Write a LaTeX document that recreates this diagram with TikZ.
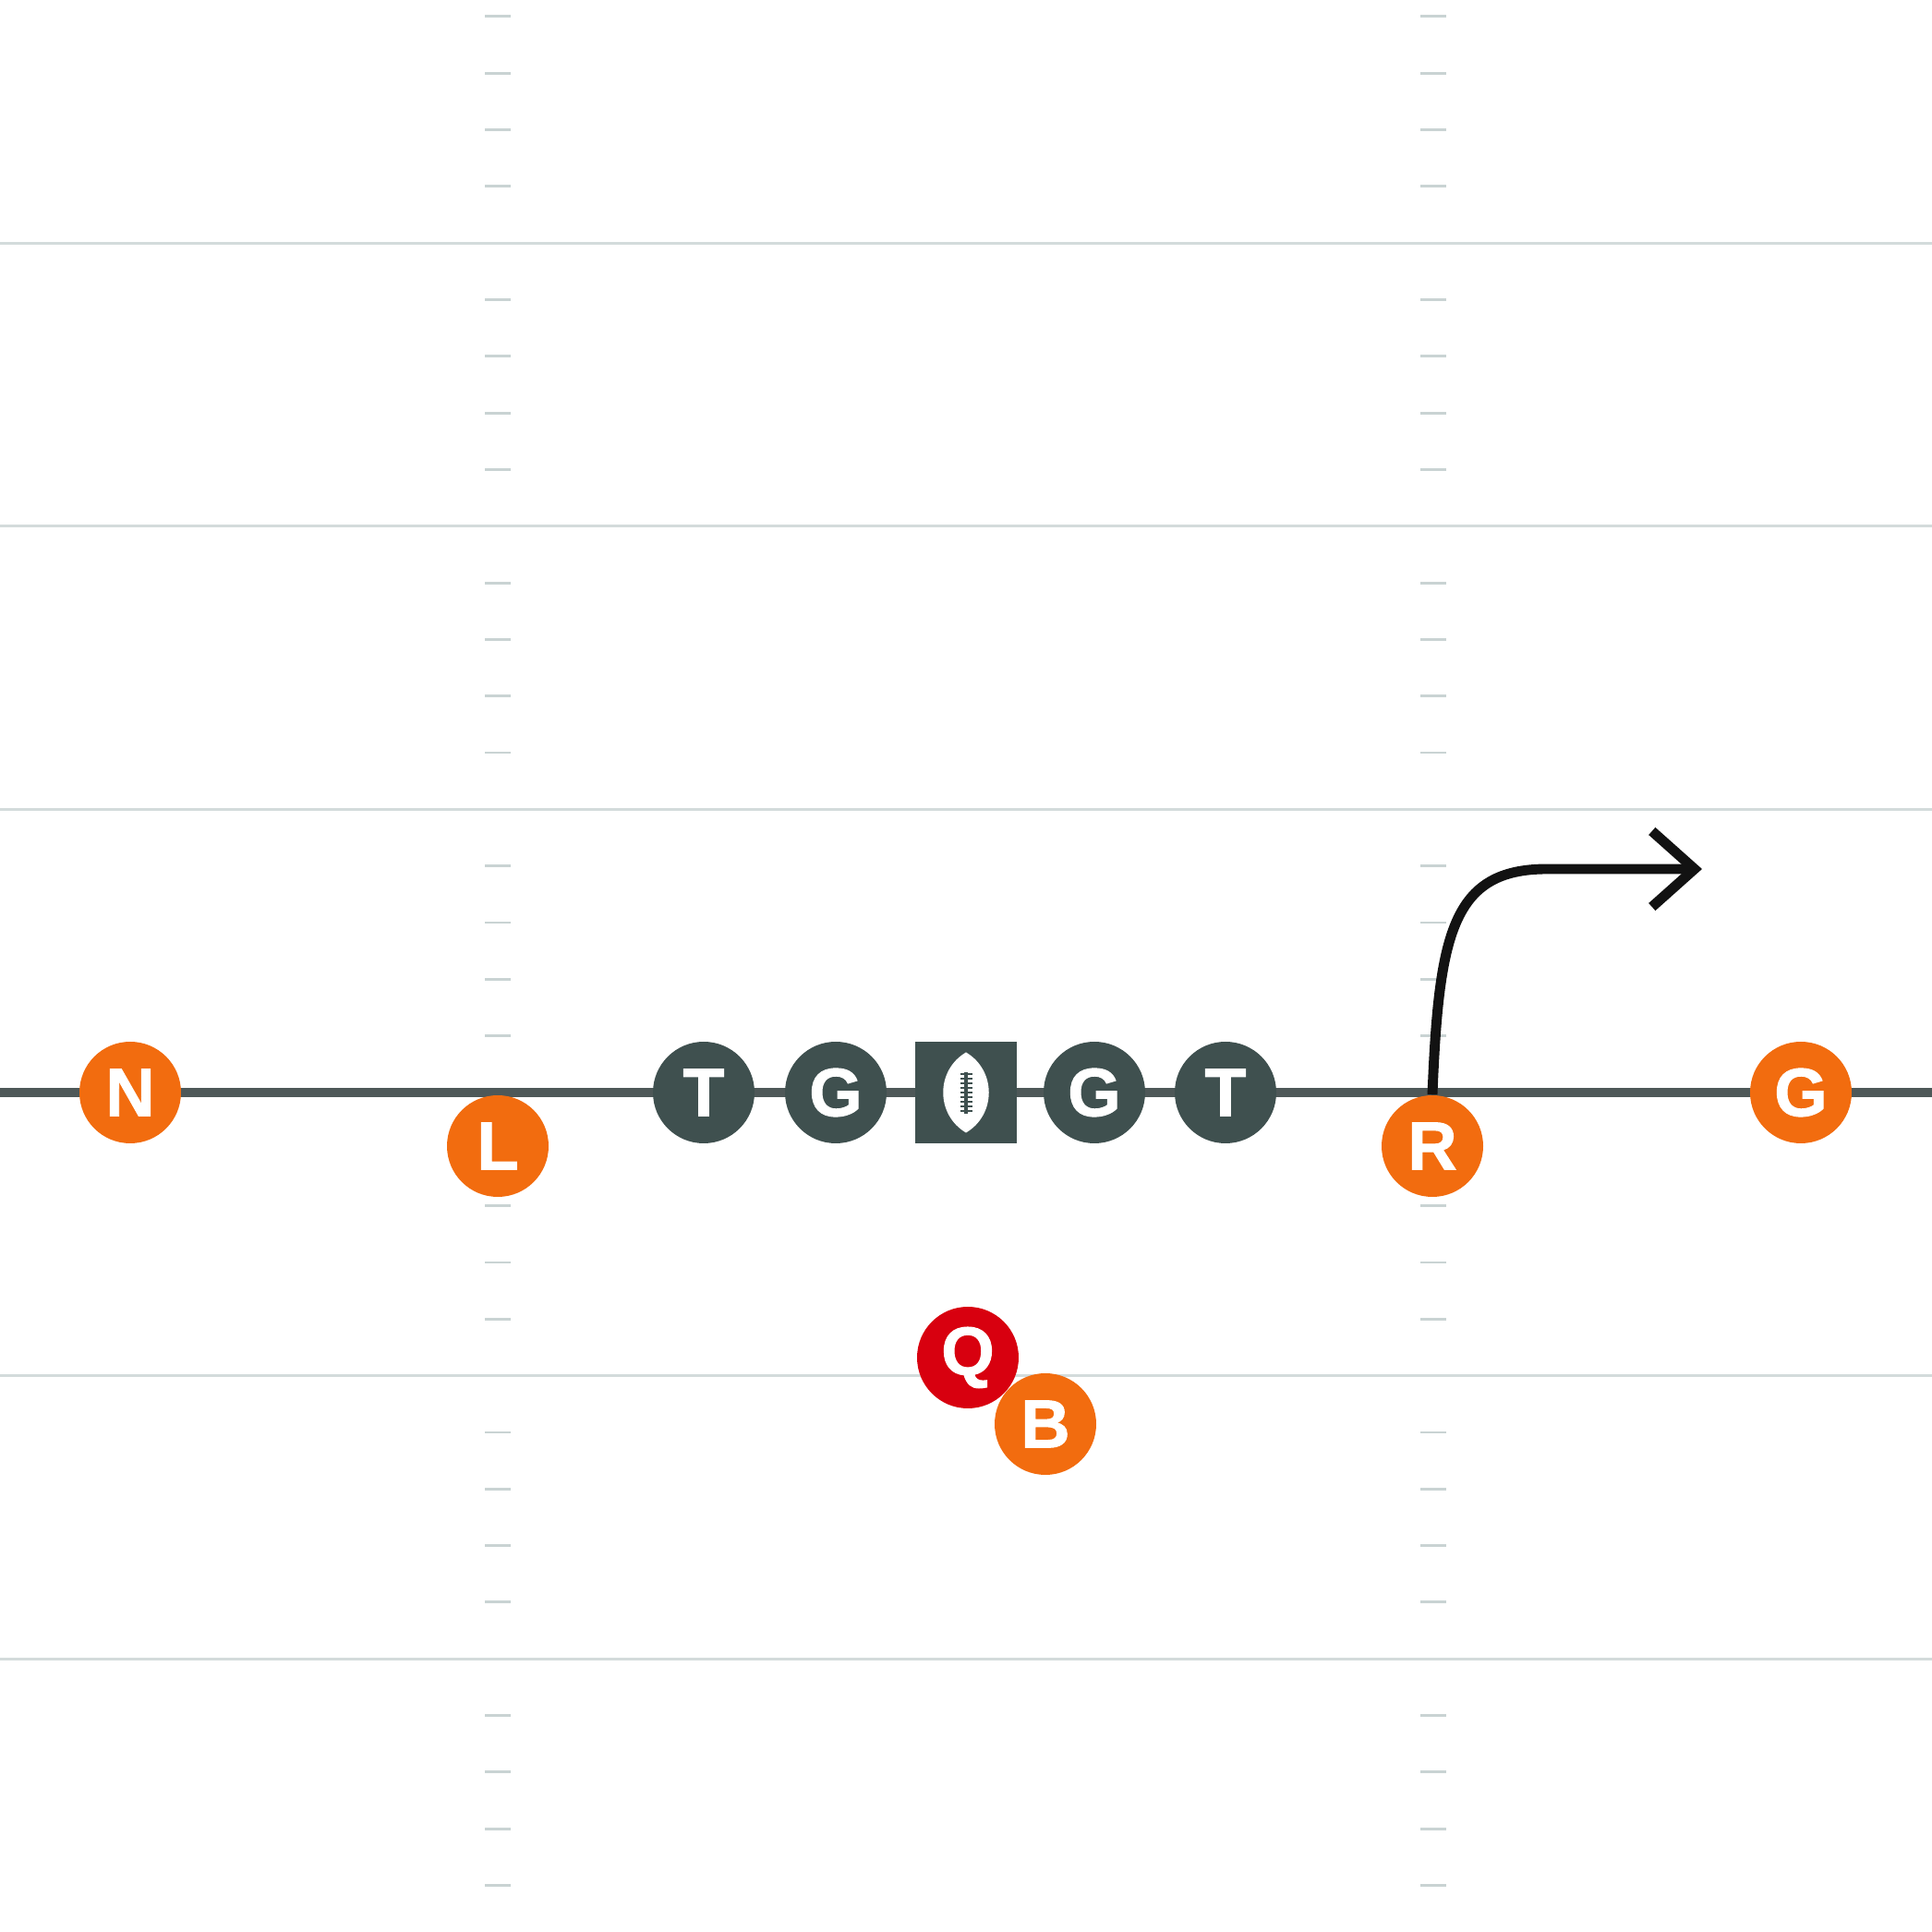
\documentclass[tikz,border=0pt]{standalone}
\usepackage{fontspec}
\setmainfont{Liberation Sans}
\newfontfamily\playerfont[FakeBold=1.3]{Liberation Sans Bold}
\usepackage{tikz}
\usetikzlibrary{arrows.meta}

\definecolor{lineorange}{HTML}{F26C0F}
\definecolor{qbred}{HTML}{D8000F}
\definecolor{oline}{HTML}{3F504F}
\definecolor{scrim}{HTML}{4E5858}
\definecolor{yardgray}{HTML}{D3DBDB}
\definecolor{hashgray}{HTML}{C9D3D3}

\begin{document}
\begin{tikzpicture}[
    player/.style={circle,fill=#1,minimum size=1.1cm,inner sep=0pt,text=white,
        font=\fontsize{21}{21}\selectfont\playerfont},
    ballbox/.style={rectangle,fill=oline,minimum size=1.1cm,inner sep=0pt},
    route/.style={line width=3.1pt,color=black!93,
        -{Straight Barb[length=4.6mm,width=8.2mm,line width=3.1pt,line cap=butt]}}
]
    \useasboundingbox[fill=white] (0,0) rectangle (20.92,20.92);

    % Yard lines
    \foreach \b in {-2,-1,1,2,3}
        \draw[yardgray,line width=0.85pt] (0,{9.09+3.066*\b}) -- (20.92,{9.09+3.066*\b});

    % Hash marks
    \foreach \b in {-3,...,3}
        \foreach \k in {1,2,3,4} {
            \draw[hashgray,line width=0.8pt] (5.25,{9.09+0.6132*(5*\b+\k)}) -- ++(0.28,0);
            \draw[hashgray,line width=0.8pt] (15.38,{9.09+0.6132*(5*\b+\k)}) -- ++(0.28,0);
        }

    % Line of scrimmage
    \draw[scrim,line width=2.6pt] (0,9.09) -- (20.92,9.09);

    % Offense
    \node[player=oline] (LT) at (7.62,9.09) {T};
    \node[player=oline] (LG) at (9.05,9.09) {G};
    \node[ballbox] (C) at (10.46,9.09) {};
    \node[player=oline] (RG) at (11.85,9.09) {G};
    \node[player=oline] (RT) at (13.27,9.09) {T};
    \node[player=qbred] (QB) at (10.48,6.22) {Q};

    % Football
    \begin{scope}[shift={(C)}]
        \fill[white] (0,0.435) .. controls (0.33,0.24) and (0.33,-0.24) .. (0,-0.435)
            .. controls (-0.33,-0.24) and (-0.33,0.24) .. (0,0.435);
        \draw[oline,line width=1.1pt] (0,0.22) -- (0,-0.23);
        \foreach \y in {-0.2,-0.15,...,0.21}
            \draw[oline,line width=0.8pt] (-0.065,\y) -- (0.065,\y);
    \end{scope}

    % Defense
    \node[player=lineorange] (N) at (1.41,9.09) {N};
    \node[player=lineorange] (L) at (5.39,8.51) {L};
    \node[player=lineorange] (R) at (15.51,8.51) {R};
    \node[player=lineorange] (G) at (19.50,9.09) {G};
    \node[player=lineorange] (B) at (11.32,5.50) {B};

    % Route
    \coordinate (rend) at (18.43,11.51);
    \draw[route] (R.north) .. controls (15.58,10.8) and (15.72,11.51) .. (16.75,11.51) -- (rend);
\end{tikzpicture}
\end{document}
